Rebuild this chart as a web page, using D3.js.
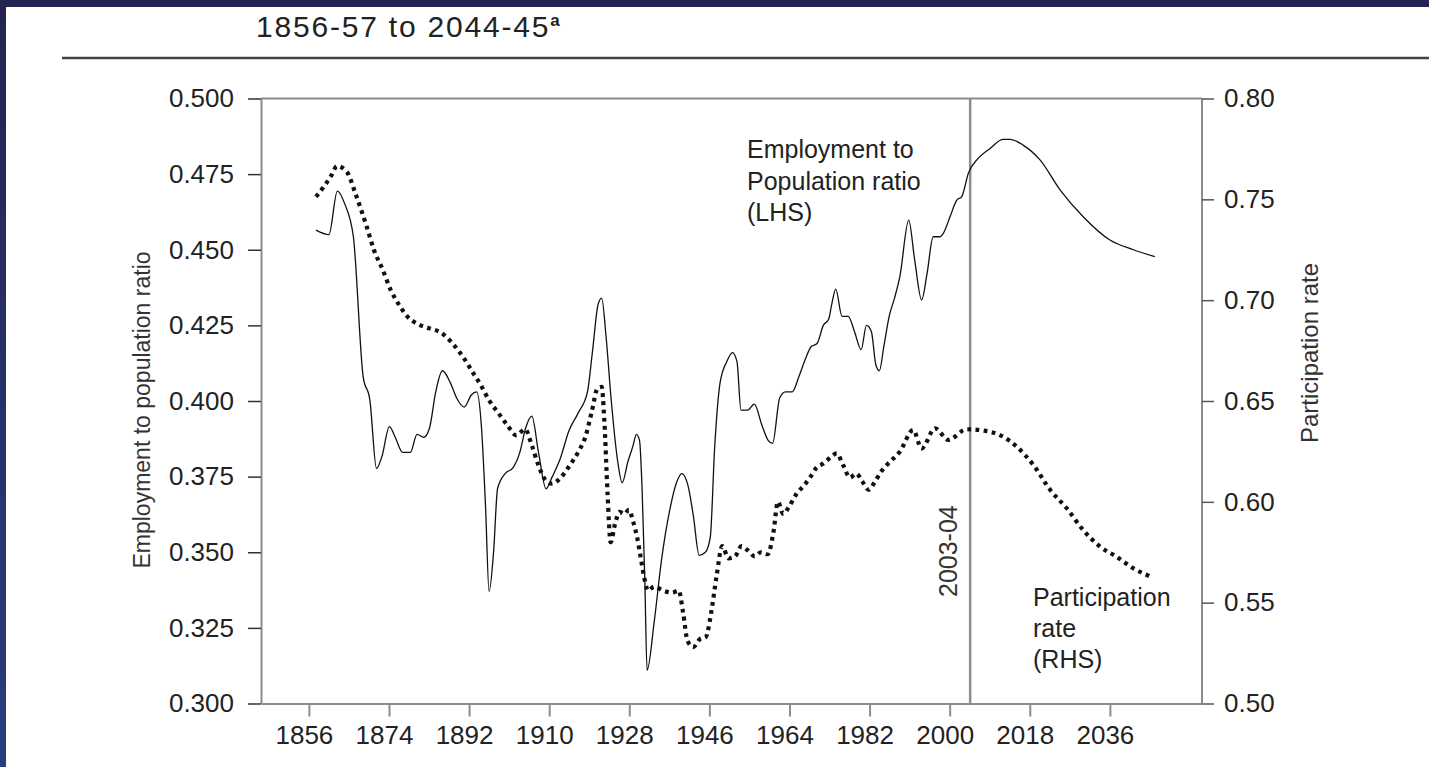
<!DOCTYPE html>
<html>
<head>
<meta charset="utf-8">
<script src="https://cdn.jsdelivr.net/npm/d3@7"></script>
<style>
  body { margin: 0; background: #fff; }
  svg { display: block; font-family: "Liberation Sans", Arial, sans-serif; }
</style>
</head>
<body>
<script>
// financial years (1856 = 1856-57)
var empYears = [1856,1858.9,1860.8,1862.5,1864.4,1866.6,1868.1,1869.6,1870.8,1872.5,1873.8,1875.5,1877.2,1878.7,1880.2,1881.5,1882.9,1884.4,1886.2,1887.6,1889.3,1890.9,1892.1,1893.2,1894.1,1894.9,1895.9,1896.8,1898.5,1900.3,1901.8,1903.1,1904.5,1906,1907.7,1909.1,1910.9,1912.8,1914.9,1917,1918.1,1919.4,1920.2,1921.2,1922.3,1923.8,1924.8,1926.1,1927.2,1928,1928.7,1929.3,1929.9,1930.4,1932,1933.6,1935.5,1937,1938.2,1939.6,1940.8,1942.1,1943.5,1944.6,1945.6,1946.8,1948.3,1949.6,1950.6,1951.5,1953,1954.5,1956.2,1957.6,1958.6,1960.2,1961.5,1963,1964.5,1966,1967.3,1968.6,1970,1971.2,1971.9,1972.8,1974.2,1975.6,1977,1978.5,1979.7,1980.8,1981.8,1982.6,1983.6,1984.8,1986,1987.2,1989.2,1990.5,1992.1,1993.3,1994.7,1996.2,1997,1998.5,2000,2001.1,2002.6,2004.8,2007.5,2010.4,2012,2014.9,2018.7,2023.2,2028.4,2034.4,2039.7,2044.5];
var empRatio = [0.4565,0.455,0.4694,0.465,0.4543,0.408,0.4004,0.3777,0.3816,0.3915,0.388,0.383,0.383,0.389,0.388,0.391,0.403,0.410,0.406,0.401,0.398,0.402,0.403,0.391,0.365,0.337,0.350,0.371,0.376,0.378,0.383,0.391,0.395,0.383,0.371,0.375,0.381,0.390,0.396,0.403,0.416,0.432,0.434,0.421,0.401,0.380,0.373,0.380,0.385,0.389,0.387,0.370,0.340,0.311,0.327,0.347,0.364,0.373,0.376,0.372,0.362,0.349,0.350,0.355,0.385,0.406,0.413,0.416,0.413,0.397,0.397,0.399,0.392,0.387,0.386,0.401,0.403,0.403,0.408,0.414,0.418,0.419,0.425,0.427,0.432,0.437,0.428,0.428,0.423,0.417,0.425,0.423,0.412,0.410,0.418,0.428,0.434,0.4411,0.4598,0.447,0.4334,0.442,0.4543,0.4543,0.4555,0.461,0.4664,0.4675,0.4753,0.4802,0.4835,0.4865,0.4865,0.4846,0.4797,0.4698,0.4609,0.4532,0.450,0.4477];

var partYears = [1856,1858,1859.5,1860.7,1862.9,1865,1867.4,1869,1871,1872.8,1874.4,1876.5,1879,1881.5,1884,1886.5,1889,1891,1893,1895,1897,1899,1901,1903,1904.5,1906,1907.5,1909,1911,1913,1915,1916.5,1918,1919.2,1920.2,1920.8,1921.5,1922.2,1923.2,1924.2,1925.3,1926.3,1927.3,1928.2,1929,1929.8,1930.6,1932,1934,1936,1937.5,1938.5,1939.5,1940.8,1942.3,1943.6,1944.8,1946,1947.3,1948.7,1950.2,1951.6,1953,1954.6,1956,1957.5,1958.8,1959.8,1961,1962.4,1964,1965.6,1967,1968.5,1970,1971.6,1973,1974.5,1976,1977.4,1978.8,1980.2,1981.6,1983,1984.6,1986,1987.2,1990.2,1992.1,1995.1,1998.1,2002.2,2006,2009.7,2013.5,2017.2,2021,2024.7,2028.4,2032.2,2035.9,2039.7,2043.6];
var partRate = [0.7513,0.757,0.762,0.7665,0.7637,0.752,0.7364,0.725,0.715,0.705,0.6986,0.692,0.688,0.686,0.684,0.679,0.672,0.665,0.658,0.650,0.644,0.638,0.633,0.636,0.628,0.618,0.611,0.609,0.612,0.618,0.625,0.632,0.645,0.656,0.657,0.640,0.605,0.580,0.589,0.595,0.594,0.596,0.590,0.582,0.572,0.562,0.556,0.558,0.556,0.555,0.556,0.545,0.531,0.528,0.532,0.533,0.545,0.563,0.578,0.572,0.573,0.578,0.576,0.573,0.575,0.574,0.585,0.600,0.594,0.598,0.604,0.608,0.612,0.617,0.619,0.622,0.624,0.618,0.612,0.614,0.610,0.606,0.610,0.615,0.619,0.622,0.6249,0.6356,0.6265,0.6365,0.6307,0.636,0.6353,0.6331,0.6273,0.6183,0.6059,0.5968,0.586,0.5778,0.5728,0.567,0.5629];

var tickYears = [1856,1874,1892,1910,1928,1946,1964,1982,2000,2018,2036];
var leftTicks = [0.300,0.325,0.350,0.375,0.400,0.425,0.450,0.475,0.500];
var rightTicks = [0.50,0.55,0.60,0.65,0.70,0.75,0.80];
var markerYear = 2003, markerLabel = "2003-04";

var W = 1429, H = 767;
var plot = {left: 261, right: 1202, top: 98.5, bottom: 703.5};

var svg = d3.select("body").append("svg")
    .attr("width", W)
    .attr("height", H);

// navy frame on top and left edge
var grad = svg.append("defs").append("linearGradient")
    .attr("id", "edge").attr("x1", 0).attr("y1", 0).attr("x2", 0).attr("y2", 1);
grad.append("stop").attr("offset", "0%").attr("stop-color", "#232452");
grad.append("stop").attr("offset", "100%").attr("stop-color", "#2a3d7e");
svg.append("rect").attr("x", 0).attr("y", 0).attr("width", W).attr("height", 7).attr("fill", "#232452");
svg.append("rect").attr("x", 0).attr("y", 0).attr("width", 6).attr("height", H).attr("fill", "url(#edge)");

// title and rule
var title = svg.append("text")
    .attr("x", 256).attr("y", 37)
    .style("font-size", "30px").style("letter-spacing", "1.8px").style("fill", "#222");
title.append("tspan").text("1856-57 to 2044-45");
title.append("tspan").attr("dy", -11).style("font-size", "17px").style("font-weight", "bold").text("a");

svg.append("line")
    .attr("x1", 62).attr("x2", W).attr("y1", 58).attr("y2", 58)
    .attr("stroke", "#444").attr("stroke-width", 2.5);

// scales
var x = d3.scaleLinear().domain([1843.64, 2055.1]).range([plot.left, plot.right]);
var tickShift = 1.6; // tick marks sit a little before the data year
var xAxisScale = x.copy().domain(x.domain().map(function(d) { return d + tickShift; }));
var yL = d3.scaleLinear().domain([0.3, 0.5]).range([plot.bottom, plot.top]);
var yR = d3.scaleLinear().domain([0.5, 0.8]).range([plot.bottom, plot.top]);

// top border of the plot
svg.append("line")
    .attr("x1", plot.left).attr("x2", plot.right)
    .attr("y1", plot.top).attr("y2", plot.top)
    .attr("stroke", "#8c8c8c").attr("stroke-width", 2);

// axes
var gL = svg.append("g")
    .attr("transform", "translate(" + plot.left + ",0)")
    .call(d3.axisLeft(yL).tickValues(leftTicks).tickFormat(d3.format(".3f"))
        .tickSize(13).tickPadding(14).tickSizeOuter(0));
gL.selectAll(".tick line").attr("stroke", "#333").attr("stroke-width", 1.5);

var gR = svg.append("g")
    .attr("transform", "translate(" + plot.right + ",0)")
    .call(d3.axisRight(yR).tickValues(rightTicks).tickFormat(d3.format(".2f"))
        .tickSize(12).tickPadding(10).tickSizeOuter(0));
gR.selectAll(".tick line").attr("stroke", "#555").attr("stroke-width", 1.5);

var gB = svg.append("g")
    .attr("transform", "translate(0," + plot.bottom + ")")
    .call(d3.axisBottom(xAxisScale).tickValues(tickYears).tickFormat(d3.format("d"))
        .tickSize(13).tickPadding(9).tickSizeOuter(0));
gB.selectAll(".tick line").attr("stroke", "#8c8c8c").attr("stroke-width", 2);
gB.selectAll(".tick text").attr("x", -5);

[gL, gR, gB].forEach(function(g) {
  g.select(".domain").attr("stroke", "#8c8c8c").attr("stroke-width", 2);
  g.selectAll(".tick text").style("font-size", "26px").style("fill", "#222")
      .style("font-family", "Liberation Sans, Arial, sans-serif");
});
gR.select(".domain").attr("d", "M0," + plot.top + "V" + plot.bottom);

// axis titles
svg.append("text")
    .attr("transform", "translate(150,410) rotate(-90)")
    .attr("text-anchor", "middle")
    .style("font-size", "23px").style("fill", "#333")
    .text("Employment to population ratio");

svg.append("text")
    .attr("transform", "translate(1318,353) rotate(-90)")
    .attr("text-anchor", "middle")
    .style("font-size", "24px").style("fill", "#333")
    .text("Participation rate");

// 2003-04 marker
svg.append("line")
    .attr("x1", x(markerYear)).attr("x2", x(markerYear))
    .attr("y1", plot.top).attr("y2", plot.bottom)
    .attr("stroke", "#8c8c8c").attr("stroke-width", 2.5);
svg.append("text")
    .attr("transform", "translate(" + (x(markerYear) - 13) + ",597) rotate(-90)")
    .style("font-size", "25px").style("fill", "#333")
    .text(markerLabel);

// series
var empLine = d3.line()
    .x(function(d, i) { return x(empYears[i]); })
    .y(function(d) { return yL(d); })
    .curve(d3.curveMonotoneX);
var partLine = d3.line()
    .x(function(d, i) { return x(partYears[i]); })
    .y(function(d) { return yR(d); })
    .curve(d3.curveMonotoneX);

svg.append("path")
    .datum(empRatio)
    .attr("d", empLine)
    .attr("fill", "none")
    .attr("stroke", "#111")
    .attr("stroke-width", 1.3);

svg.append("path")
    .datum(partRate)
    .attr("d", partLine)
    .attr("fill", "none")
    .attr("stroke", "#111")
    .attr("stroke-width", 4.2)
    .attr("stroke-dasharray", "3.8,4.4");

// series labels
function multiline(lines, x0, y0, step) {
  var t = svg.append("text").style("font-size", "25px").style("fill", "#222");
  lines.forEach(function(s, i) {
    t.append("tspan").attr("x", x0).attr("y", y0 + i * step).text(s);
  });
}
multiline(["Employment to", "Population ratio", "(LHS)"], 747, 158, 31.5);
multiline(["Participation", "rate", "(RHS)"], 1033, 606, 31);
</script>
</body>
</html>
